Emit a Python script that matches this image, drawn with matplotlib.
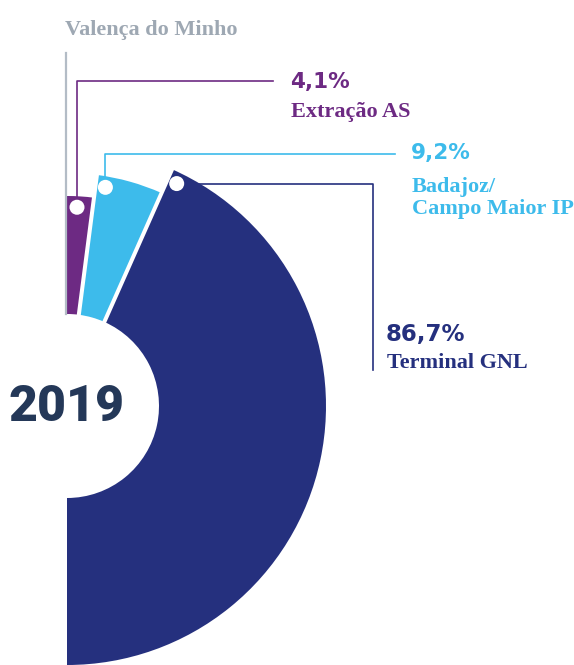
import numpy as np
import matplotlib.pyplot as plt
from matplotlib.patches import Wedge, Circle

# Entry points, share of supply in 2019 (%)
entries = ['Valença do Minho', 'Extração AS', 'Badajoz/\nCampo Maior IP', 'Terminal GNL']
shares = [0.0, 4.1, 9.2, 86.7]
share_labels = ['', '4,1%', '9,2%', '86,7%']
year = '2019'

colors = ['#b3bcc6', '#6d2a83', '#3dbbeb', '#25307e']

W, H = 574, 665
cx, cy = 67, 406          # centre of the half ring (pixels, y down)
r_in = 92
r_out = [0, 210, 233, 259]

fig = plt.figure(figsize=(W / 100, H / 100), dpi=100)
ax = fig.add_axes([0, 0, 1, 1])
ax.set_xlim(0, W)
ax.set_ylim(H, 0)
ax.set_aspect('equal')
ax.axis('off')

# with y pointing down, -90 is straight up and angles run clockwise
cum = np.concatenate([[0], np.cumsum(shares)])
start = -90 + 1.8 * cum[:-1]
end = -90 + 1.8 * cum[1:]

for i in range(1, len(shares)):
    ax.add_patch(Wedge((cx, cy), r_out[i], start[i], end[i],
                       width=r_out[i] - r_in, facecolor=colors[i], lw=0))

# white gaps between the slices
for a in start[2:]:
    t = np.radians(a)
    ax.plot([cx + r_in * 0.9 * np.cos(t), cx + 270 * np.cos(t)],
            [cy + r_in * 0.9 * np.sin(t), cy + 270 * np.sin(t)],
            color='white', lw=2.9, solid_capstyle='butt')

# marker dots near the leading edge of each slice
dots = {}
for i in range(1, len(shares)):
    r = r_out[i] - 11
    t = np.radians(start[i]) + 10 / r
    x, y = cx + r * np.cos(t), cy + r * np.sin(t)
    dots[i] = (x, y)
    ax.add_patch(Circle((x, y), 7.5, facecolor='white', lw=0, zorder=5))

# leader lines
ax.plot([cx - 1.5, cx - 1.5], [cy - r_in, 53], color=colors[0], lw=1.6)
x, y = dots[1]
ax.plot([x, x, 273], [y, 81, 81], color=colors[1], lw=1.2, zorder=4)
x, y = dots[2]
ax.plot([x, x, 395], [y, 154, 154], color=colors[2], lw=1.2, zorder=4)
x, y = dots[3]
ax.plot([x, 373, 373], [y, y, 370], color=colors[3], lw=1.2, zorder=4)

serif = dict(family='Liberation Serif', weight='bold', fontsize=16, va='baseline')
sans = dict(family='DejaVu Sans', weight='bold', fontsize=15.5, va='baseline')

ax.text(65, 35, entries[0], color='#9ea8b3', **serif)

ax.text(290, 88, share_labels[1], color=colors[1], **sans)
ax.text(291, 117, entries[1], color=colors[1], **serif)

ax.text(411, 159, share_labels[2], color=colors[2], **sans)
ax.text(412, 214, entries[2], color=colors[2], linespacing=1.15, **serif)

ax.text(386, 341, share_labels[3], color=colors[3], **{**sans, 'fontsize': 16.5})
ax.text(387, 368, entries[3], color=colors[3], **serif)

ax.text(8, 421, year, color='#243858', family='Roboto', weight='black',
        fontsize=36, va='baseline')

fig.savefig('out.png', dpi=100, facecolor='white')
